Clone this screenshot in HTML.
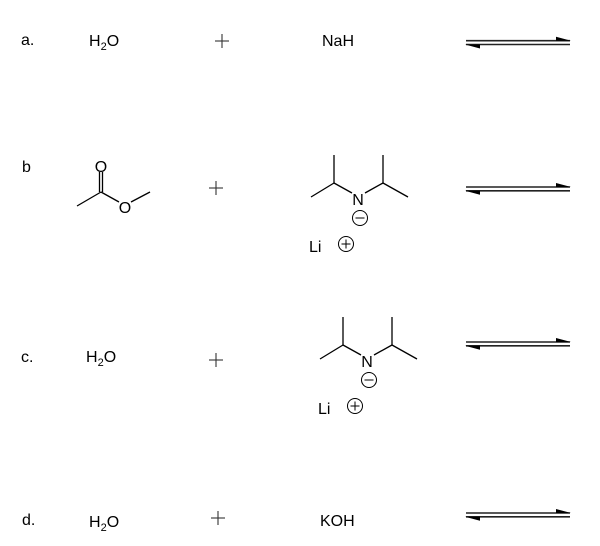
<!DOCTYPE html>
<html><head><meta charset="utf-8"><style>
html,body{margin:0;padding:0;background:#fff;}
svg{display:block;}
text{font-family:"Liberation Sans",sans-serif;fill:#000;}
</style></head><body>
<svg width="600" height="546" viewBox="0 0 600 546" xmlns="http://www.w3.org/2000/svg">
<defs>
<g id="eq">
  <line x1="466" y1="0" x2="570" y2="0" stroke="#222" stroke-width="1.6"/>
  <polygon points="556,-4 571,0 556,0" fill="#000"/>
  <line x1="466" y1="3.8" x2="570" y2="3.8" stroke="#222" stroke-width="1.6"/>
  <polygon points="480,7.8 465,3.8 480,3.8" fill="#000"/>
</g>
<g id="plus" stroke="#333" stroke-width="1.1">
  <line x1="-7" y1="0" x2="7" y2="0"/>
  <line x1="0" y1="-7" x2="0" y2="7"/>
</g>
<g id="lda" stroke="#000" stroke-width="1.3" fill="none">
  <line x1="311" y1="197" x2="334" y2="183"/>
  <line x1="334" y1="183" x2="334" y2="155"/>
  <line x1="334" y1="183" x2="352" y2="193"/>
  <line x1="365" y1="193" x2="383" y2="183"/>
  <line x1="383" y1="183" x2="383" y2="155"/>
  <line x1="383" y1="183" x2="408" y2="197"/>
  <circle cx="360" cy="218" r="7.5" stroke-width="1"/>
  <line x1="355.5" y1="218" x2="364.5" y2="218" stroke-width="1"/>
  <circle cx="346" cy="244" r="7.5" stroke-width="1"/>
  <line x1="341.5" y1="244" x2="350.5" y2="244" stroke-width="1"/>
  <line x1="346" y1="239.5" x2="346" y2="248.5" stroke-width="1"/>
  <text x="358" y="205" font-size="16" text-anchor="middle" stroke="none" fill="#000">N</text>
  <text x="309" y="252" font-size="16" stroke="none" fill="#000">Li</text>
</g>
</defs>

<!-- a -->
<text x="21" y="45" font-size="16">a.</text>
<text x="89" y="46" font-size="16">H<tspan font-size="11" dy="4">2</tspan><tspan dy="-4">O</tspan></text>
<use href="#plus" transform="translate(222,41)"/>
<text x="322" y="46" font-size="16">NaH</text>
<use href="#eq" transform="translate(0,40.7)"/>

<!-- b -->
<text x="22" y="172" font-size="16">b</text>
<g stroke="#000" stroke-width="1.3" fill="none">
  <line x1="77" y1="206" x2="101" y2="192"/>
  <line x1="99.5" y1="192" x2="99.5" y2="172"/>
  <line x1="102.5" y1="192" x2="102.5" y2="172"/>
  <line x1="101" y1="192" x2="119" y2="202"/>
  <line x1="131" y1="202" x2="150" y2="192"/>
</g>
<text x="101" y="172" font-size="16" text-anchor="middle">O</text>
<text x="125" y="213" font-size="16" text-anchor="middle">O</text>
<use href="#plus" transform="translate(216,188)"/>
<use href="#lda"/>
<use href="#eq" transform="translate(0,187)"/>

<!-- c -->
<text x="21" y="362" font-size="16">c.</text>
<text x="86" y="362" font-size="16">H<tspan font-size="11" dy="4">2</tspan><tspan dy="-4">O</tspan></text>
<use href="#plus" transform="translate(216,360)"/>
<use href="#lda" transform="translate(9,162)"/>
<use href="#eq" transform="translate(0,342)"/>

<!-- d -->
<text x="22" y="525" font-size="16">d.</text>
<text x="89" y="527" font-size="16">H<tspan font-size="11" dy="4">2</tspan><tspan dy="-4">O</tspan></text>
<use href="#plus" transform="translate(218,518)"/>
<text x="320" y="526" font-size="16">KOH</text>
<use href="#eq" transform="translate(0,513)"/>
</svg>
</body></html>
